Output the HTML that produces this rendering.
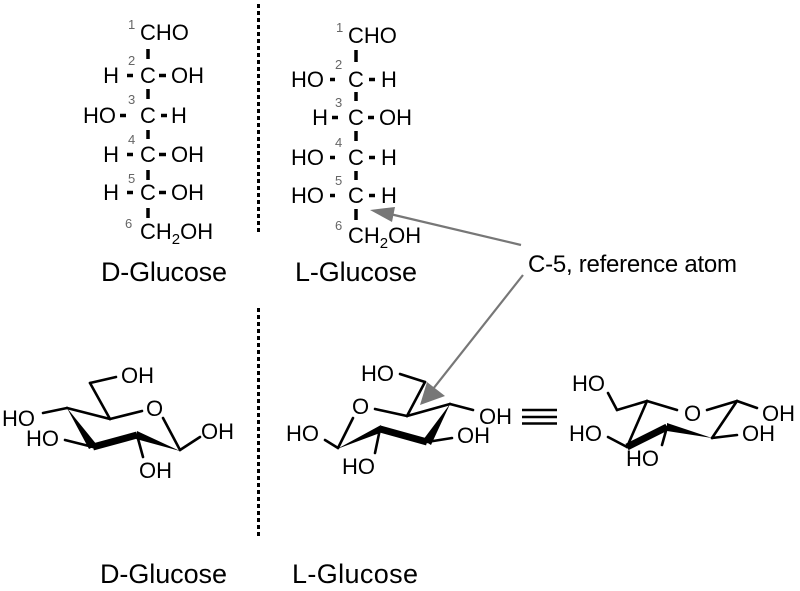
<!DOCTYPE html>
<html><head><meta charset="utf-8"><style>
html,body{margin:0;padding:0;background:#fff;}
svg{display:block;}
text{font-family:"Liberation Sans",Arial,sans-serif;fill:#000;}
.f{font-size:22px;}
.s{font-size:13px;fill:#666;}
.c{font-size:22px;}
.lab{font-size:27px;}
</style></head><body>
<svg width="800" height="591" viewBox="0 0 800 591" xmlns="http://www.w3.org/2000/svg">
<rect width="800" height="591" fill="#fff"/>
<!-- dotted separators -->
<line x1="258.5" y1="4" x2="258.5" y2="235" stroke="#000" stroke-width="3" stroke-dasharray="4 3"/>
<line x1="258.5" y1="308" x2="258.5" y2="538" stroke="#000" stroke-width="3" stroke-dasharray="4 3"/>

<!-- D Fischer -->
<g stroke="#000" stroke-width="3.5">
<line x1="148" y1="49" x2="148" y2="59"/>
<line x1="148" y1="89" x2="148" y2="99"/>
<line x1="148" y1="130" x2="148" y2="139"/>
<line x1="148" y1="170" x2="148" y2="180"/>
<line x1="148" y1="208" x2="148" y2="218"/>
<line x1="127" y1="75.5" x2="133" y2="75.5"/><line x1="159" y1="75.5" x2="166" y2="75.5"/>
<line x1="120" y1="115.5" x2="126" y2="115.5"/><line x1="161" y1="115.5" x2="167" y2="115.5"/>
<line x1="127" y1="154.5" x2="133" y2="154.5"/><line x1="159" y1="154.5" x2="166" y2="154.5"/>
<line x1="127" y1="192.5" x2="133" y2="192.5"/><line x1="159" y1="192.5" x2="166" y2="192.5"/>
</g>
<text class="f" x="140" y="40">CHO</text>
<text class="f" x="119" y="83" text-anchor="end">H</text><text class="f" x="148" y="83" text-anchor="middle">C</text><text class="f" x="171" y="83">OH</text>
<text class="f" x="116" y="123" text-anchor="end">HO</text><text class="f" x="148" y="123" text-anchor="middle">C</text><text class="f" x="171" y="123">H</text>
<text class="f" x="119" y="162" text-anchor="end">H</text><text class="f" x="148" y="162" text-anchor="middle">C</text><text class="f" x="171" y="162">OH</text>
<text class="f" x="119" y="200" text-anchor="end">H</text><text class="f" x="148" y="200" text-anchor="middle">C</text><text class="f" x="171" y="200">OH</text>
<text class="f" x="140" y="239">CH<tspan font-size="15" dy="5">2</tspan><tspan dy="-5">OH</tspan></text>
<text class="s" x="128" y="29">1</text>
<text class="s" x="128" y="65">2</text>
<text class="s" x="128" y="104">3</text>
<text class="s" x="128" y="144">4</text>
<text class="s" x="128" y="183">5</text>
<text class="s" x="125" y="228">6</text>

<!-- L Fischer -->
<g stroke="#000" stroke-width="3.5">
<line x1="356" y1="50" x2="356" y2="62"/>
<line x1="356" y1="92" x2="356" y2="101"/>
<line x1="356" y1="131" x2="356" y2="141"/>
<line x1="356" y1="171" x2="356" y2="180"/>
<line x1="356" y1="209" x2="356" y2="220"/>
<line x1="330" y1="79.5" x2="335" y2="79.5"/><line x1="369" y1="79.5" x2="375" y2="79.5"/>
<line x1="332" y1="117.5" x2="338" y2="117.5"/><line x1="368" y1="117.5" x2="374" y2="117.5"/>
<line x1="330" y1="157.5" x2="335" y2="157.5"/><line x1="369" y1="157.5" x2="375" y2="157.5"/>
<line x1="330" y1="195.5" x2="335" y2="195.5"/><line x1="369" y1="195.5" x2="375" y2="195.5"/>
</g>
<text class="f" x="348" y="43">CHO</text>
<text class="f" x="324" y="87" text-anchor="end">HO</text><text class="f" x="356" y="87" text-anchor="middle">C</text><text class="f" x="381" y="87">H</text>
<text class="f" x="328" y="125" text-anchor="end">H</text><text class="f" x="356" y="125" text-anchor="middle">C</text><text class="f" x="379" y="125">OH</text>
<text class="f" x="324" y="165" text-anchor="end">HO</text><text class="f" x="356" y="165" text-anchor="middle">C</text><text class="f" x="381" y="165">H</text>
<text class="f" x="324" y="203" text-anchor="end">HO</text><text class="f" x="356" y="203" text-anchor="middle">C</text><text class="f" x="381" y="203">H</text>
<text class="f" x="348" y="243">CH<tspan font-size="15" dy="5">2</tspan><tspan dy="-5">OH</tspan></text>
<text class="s" x="336" y="32">1</text>
<text class="s" x="335" y="69">2</text>
<text class="s" x="335" y="107">3</text>
<text class="s" x="335" y="147">4</text>
<text class="s" x="335" y="185">5</text>
<text class="s" x="335" y="230">6</text>

<!-- labels -->
<text class="lab" x="101" y="281" textLength="126">D-Glucose</text>
<text class="lab" x="295" y="281" textLength="122">L-Glucose</text>
<text class="lab" x="100" y="583" textLength="127">D-Glucose</text>
<text class="lab" x="292" y="583" textLength="126">L-Glucose</text>
<text x="528" y="272" font-size="24" textLength="209">C-5, reference atom</text>

<!-- arrows -->
<g stroke="#777" stroke-width="2.2" fill="none">
<line x1="521" y1="245" x2="390" y2="214"/>
<line x1="523" y1="275" x2="433" y2="389"/>
</g>
<polygon points="370,210 395,207 392,222" fill="#777"/>
<polygon points="420,405 427,382 445,396" fill="#777"/>

<!-- D chair -->
<g stroke="#000" stroke-width="2.6" fill="none" stroke-linecap="round">
<line x1="67" y1="408" x2="110" y2="419"/>
<line x1="110" y1="419" x2="142" y2="411"/>
<line x1="163" y1="418" x2="180" y2="450"/>
<line x1="180" y1="450" x2="200" y2="437"/>
<line x1="110" y1="419" x2="90" y2="383"/>
<line x1="90" y1="383" x2="116" y2="377"/>
<line x1="137" y1="435" x2="143" y2="457"/>
<line x1="67" y1="408" x2="43" y2="413"/>
<line x1="93" y1="447" x2="65" y2="440"/>
</g>
<polygon points="180,451 137,431 136,439" fill="#000"/>
<line x1="137" y1="435" x2="93" y2="447" stroke="#000" stroke-width="7"/>
<polygon points="67,408 89,449 97,445" fill="#000"/>
<text class="c" x="121" y="383">OH</text>
<text class="c" x="146" y="416">O</text>
<text class="c" x="201" y="439">OH</text>
<text class="c" x="139" y="478">OH</text>
<text class="c" x="2" y="426">HO</text>
<text class="c" x="26" y="446">HO</text>

<!-- L chair -->
<g stroke="#000" stroke-width="2.6" fill="none" stroke-linecap="round">
<line x1="407" y1="416" x2="425" y2="382"/>
<line x1="425" y1="382" x2="400" y2="374"/>
<line x1="375" y1="409" x2="407" y2="416"/>
<line x1="407" y1="416" x2="450" y2="404"/>
<line x1="450" y1="404" x2="473" y2="410"/>
<line x1="427" y1="442" x2="452" y2="438"/>
<line x1="380" y1="429" x2="375" y2="453"/>
<line x1="338" y1="448" x2="325" y2="440"/>
<line x1="338" y1="448" x2="353" y2="418"/>
</g>
<polygon points="450,404 423,440 431,445" fill="#000"/>
<line x1="427" y1="442" x2="380" y2="429" stroke="#000" stroke-width="7"/>
<polygon points="337,449 381,425 380,433" fill="#000"/>
<text class="c" x="361" y="381">HO</text>
<text class="c" x="352" y="414">O</text>
<text class="c" x="479" y="424">OH</text>
<text class="c" x="457" y="443">OH</text>
<text class="c" x="342" y="474">HO</text>
<text class="c" x="286" y="441">HO</text>

<!-- equivalence -->
<g stroke="#000" stroke-width="2.5">
<line x1="522" y1="410" x2="557" y2="410"/>
<line x1="522" y1="417" x2="557" y2="417"/>
<line x1="522" y1="423.5" x2="557" y2="423.5"/>
</g>

<!-- third chair -->
<g stroke="#000" stroke-width="2.6" fill="none" stroke-linecap="round">
<line x1="617" y1="410" x2="608" y2="393"/>
<line x1="617" y1="410" x2="647" y2="401"/>
<line x1="647" y1="401" x2="677" y2="410"/>
<line x1="707" y1="410" x2="737" y2="401"/>
<line x1="737" y1="401" x2="757" y2="408"/>
<line x1="737" y1="401" x2="712" y2="438"/>
<line x1="712" y1="438" x2="737" y2="435"/>
<line x1="667" y1="427" x2="662" y2="445"/>
<line x1="627" y1="447" x2="608" y2="437"/>
<line x1="627" y1="447" x2="647" y2="401"/>
</g>
<polygon points="712,438 667,423 667,431" fill="#000"/>
<line x1="667" y1="427" x2="627" y2="447" stroke="#000" stroke-width="7"/>
<text class="c" x="572" y="391">HO</text>
<text class="c" x="684" y="421">O</text>
<text class="c" x="762" y="421">OH</text>
<text class="c" x="742" y="441">OH</text>
<text class="c" x="626" y="466">HO</text>
<text class="c" x="569" y="441">HO</text>
</svg>
</body></html>
